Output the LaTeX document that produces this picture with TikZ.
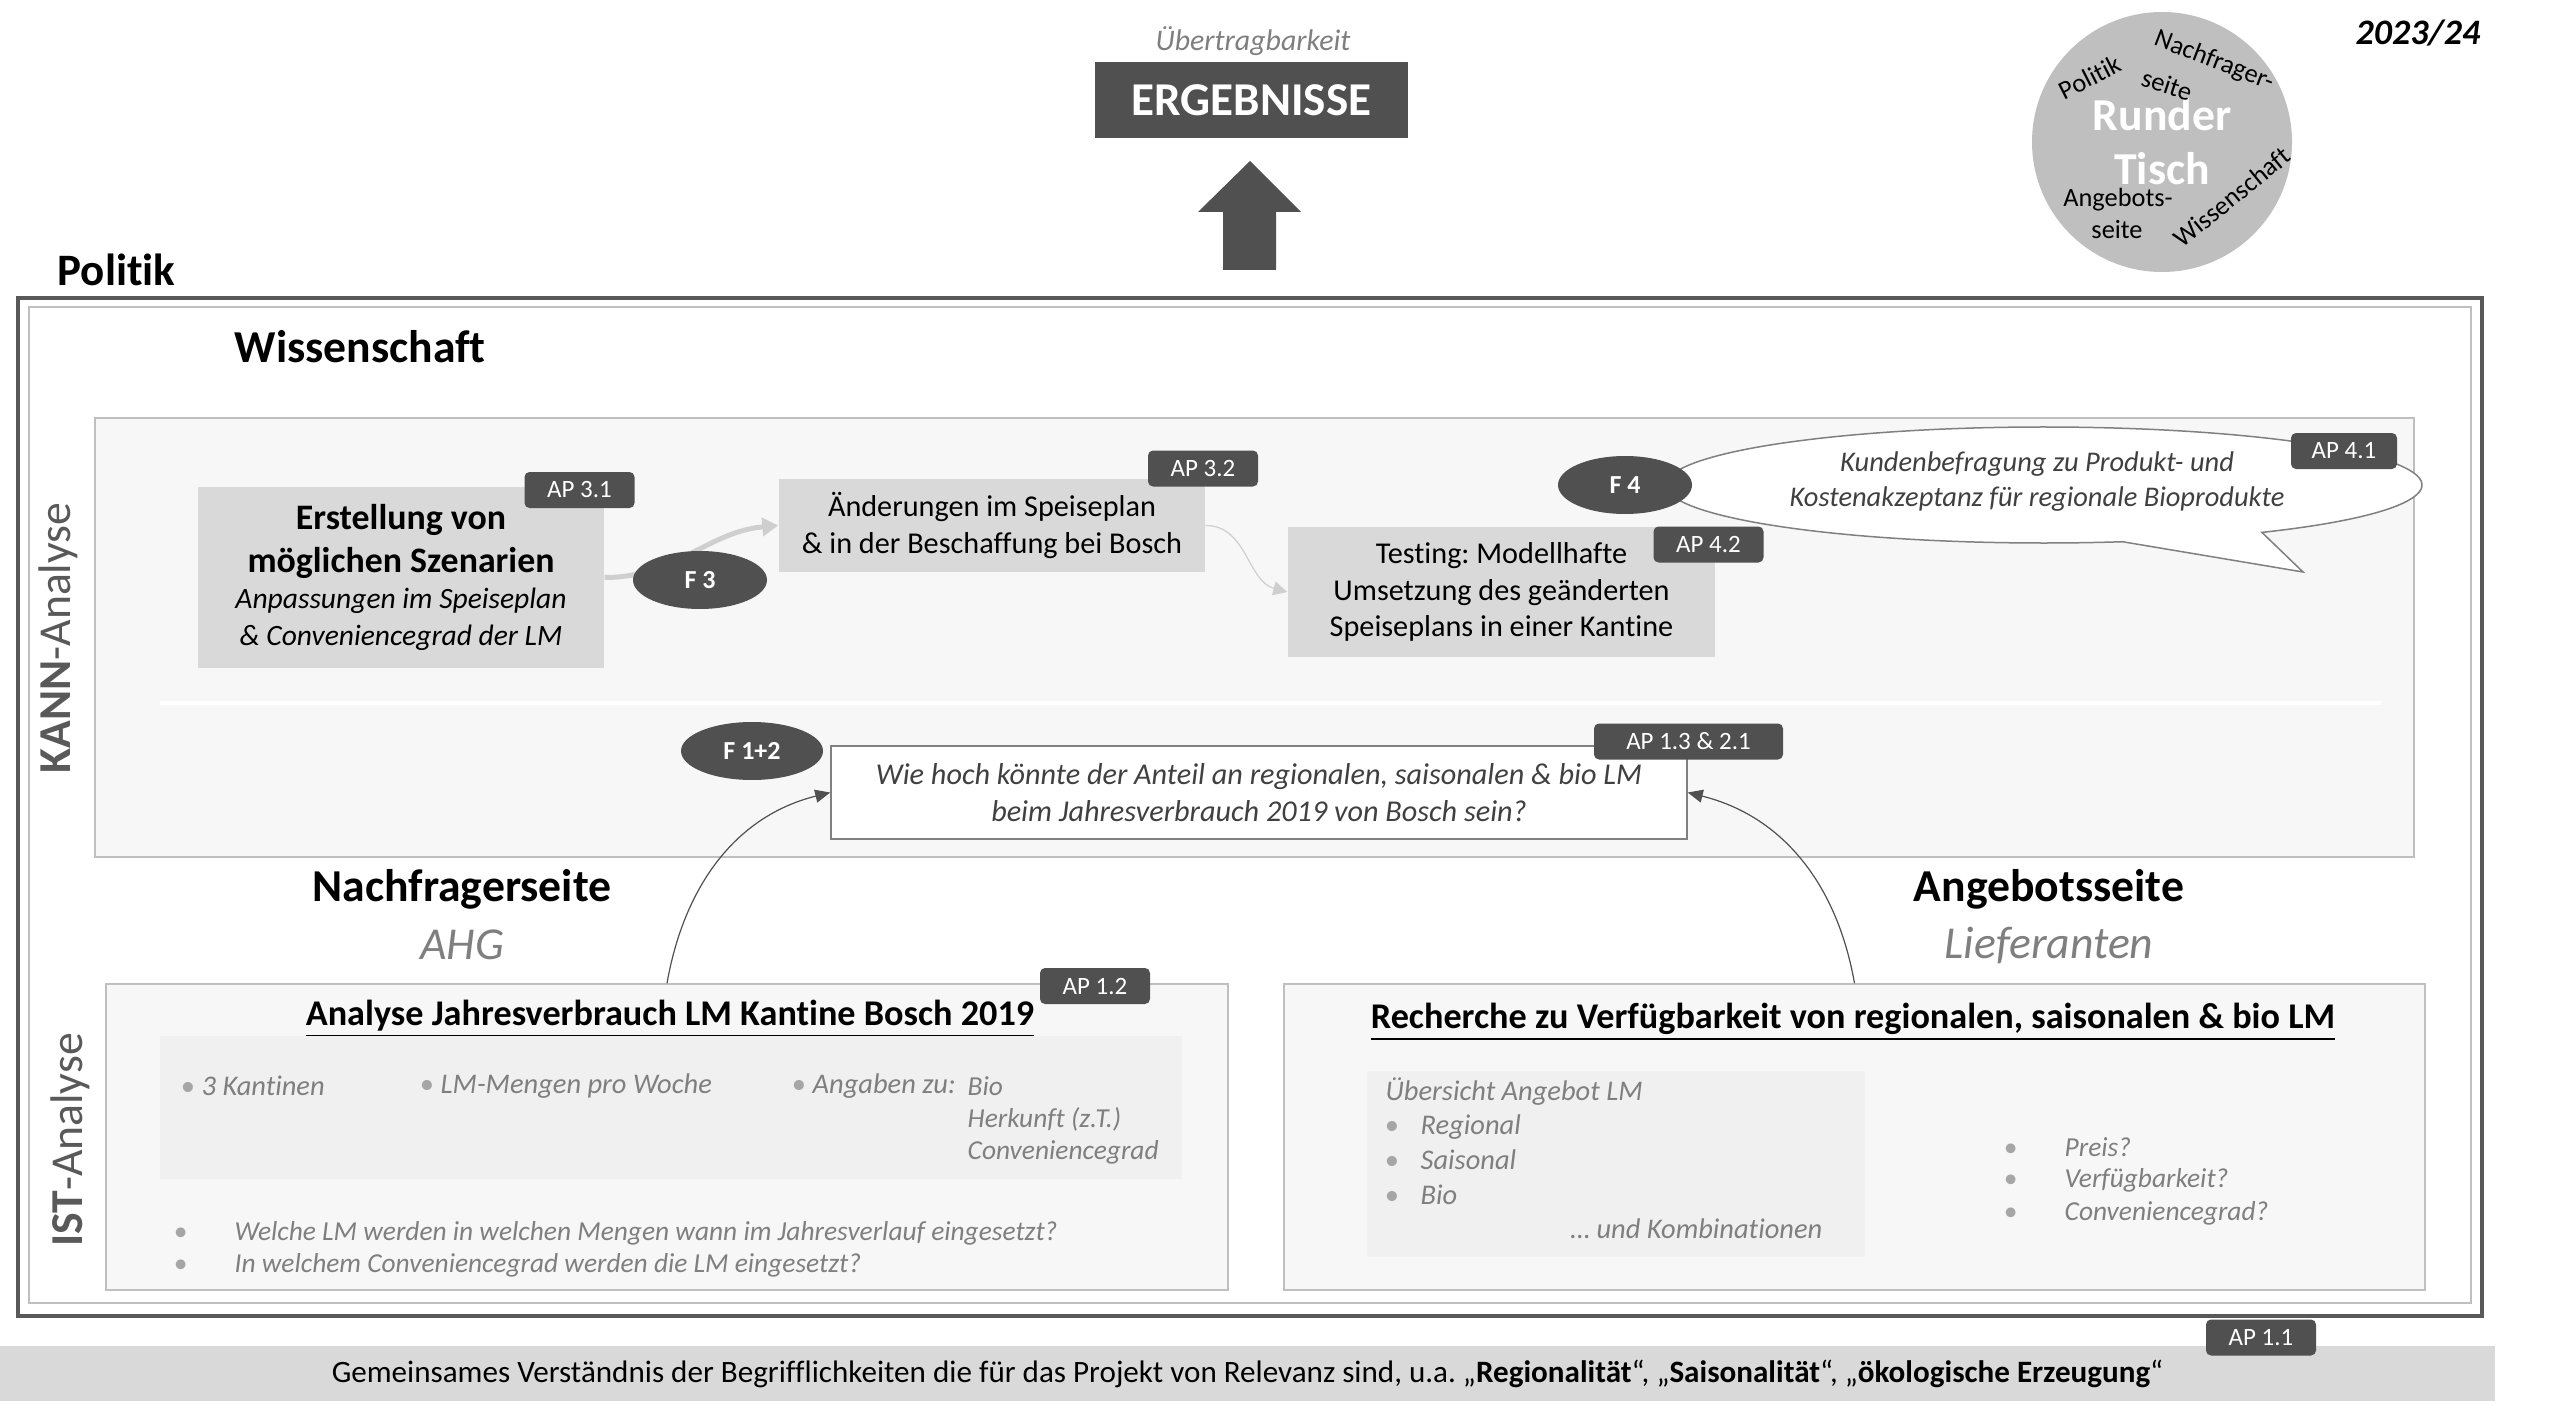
\documentclass[tikz,border=0pt]{standalone}
\usepackage{fontspec}
\setmainfont{Carlito}[Ligatures=NoCommon]
\usetikzlibrary{arrows.meta,shapes.geometric}
\frenchspacing

\definecolor{apgray}{HTML}{505050}
\definecolor{boxgray}{HTML}{D9D9D9}
\definecolor{panelgray}{HTML}{F7F7F7}
\definecolor{innergray}{HTML}{F0F0F0}
\definecolor{rimgray}{HTML}{BFBFBF}
\definecolor{txtgray}{HTML}{7F7F7F}
\definecolor{lblgray}{HTML}{595959}
\definecolor{bulgray}{HTML}{A6A6A6}
\definecolor{palegray}{HTML}{CFCFCF}
\definecolor{linegray}{HTML}{808080}
\definecolor{darktext}{HTML}{404040}

\newcommand{\boxfont}{\upshape\mdseries\fontsize{8.6}{10.5}\selectfont}
\newcommand{\boxbold}{\upshape\bfseries\fontsize{10.2}{12.2}\selectfont}
\newcommand{\boxital}{\mdseries\itshape\fontsize{8.4}{10.5}\selectfont}
\newcommand{\dotitem}[1]{\makebox[#1][l]{\color{bulgray}\textbullet}}

\tikzset{
  apbadge/.style={fill=apgray, text=white, rounded corners=0.5mm, inner sep=0pt,
    minimum width=11mm, minimum height=3.6mm, font=\fontsize{7.1}{8}\selectfont},
  fnode/.style={ellipse, fill=apgray, text=white, inner sep=0pt,
    minimum width=13.4mm, minimum height=5.8mm, font=\bfseries\fontsize{7.4}{8}\selectfont},
  greybox/.style={fill=boxgray, inner sep=0pt, align=center},
  panel/.style={fill=panelgray, draw=rimgray, line width=0.15mm, inner sep=0pt},
  heading/.style={inner sep=0pt, font=\bfseries\fontsize{13}{15}\selectfont},
  subhead/.style={inner sep=0pt, text=txtgray, font=\itshape\fontsize{13}{15}\selectfont},
  sidelabel/.style={rotate=90, inner sep=0pt, text=lblgray, font=\fontsize{13}{15}\selectfont},
  graytext/.style={inner sep=0pt, anchor=west, text=txtgray, font=\itshape\fontsize{7.8}{9}\selectfont},
  innertext/.style={graytext, font=\itshape\fontsize{8.1}{9}\selectfont},
  istitle/.style={inner sep=0pt, anchor=base, font=\bfseries\fontsize{10.3}{12}\selectfont},
  ringword/.style={inner sep=0pt, font=\fontsize{7.5}{8}\selectfont},
  pale arrow/.style={draw=palegray, line width=0.5mm, -{Triangle[length=1.6mm, width=1.8mm]}},
  thin arrow/.style={draw=palegray, line width=0.12mm, -{Triangle[length=1.4mm, width=1.4mm]}},
  ist arrow/.style={draw=apgray, line width=0.12mm, -{Triangle[length=1.5mm, width=1.3mm]}},
}

\begin{document}
\begin{tikzpicture}[x=0.1mm, y=0.1mm]
    % Canvas
    \fill[white] (0,0) rectangle (2560,1409);
    \useasboundingbox (0,0) rectangle (2560,1409);

    % Ergebnisse
    \node[inner sep=0pt, anchor=base, text=txtgray, font=\itshape\fontsize{8.5}{10}\selectfont] (uebertrag) at (1253,1358) {Übertragbarkeit};
    \node[fill=apgray, text=white, inner sep=0pt, minimum width=31.3mm, minimum height=7.6mm,
      font=\bfseries\fontsize{13.4}{15}\selectfont] (ergebnis) at (1251.5,1309) {ERGEBNISSE};
    \fill[apgray] (1223,1139) -- (1223,1197) -- (1198,1197) -- (1250,1248)
      -- (1301,1197) -- (1276,1197) -- (1276,1139) -- cycle;

    % Runder Tisch
    \node[circle, fill=rimgray, minimum size=26mm, inner sep=0pt, align=center, text=white,
      font=\bfseries\fontsize{13}{15.4}\selectfont] (tisch) at (2162,1267) {Runder\\Tisch};
    \node[ringword, rotate=27] (rpolitik) at (2090,1332) {Politik};
    \node[ringword, rotate=-21] (rnachfrage) at (2214,1348) {Nachfrager-};
    \node[ringword, rotate=-18] (rnachseite) at (2167,1324) {seite};
    \node[ringword] (rangebot) at (2118,1209) {Angebots-};
    \node[ringword] (rangseite) at (2117,1179) {seite};
    \node[ringword, rotate=39] (rwissen) at (2232,1212) {Wissenschaft};
    \node[inner sep=0pt, font=\bfseries\itshape\fontsize{10.2}{12}\selectfont] (jahr) at (2418,1376) {2023/24};

    % Politik frame
    \draw[lblgray, line width=0.35mm] (18,1111) rectangle (2482,93);
    \node[heading, anchor=base west, font=\bfseries\fontsize{12.8}{15}\selectfont] (politik) at (57,1123) {Politik};

    % Wissenschaft frame
    \draw[rimgray, fill=white, line width=0.15mm] (29,1102) rectangle (2471,106);
    \node[heading, anchor=base west] (wissen) at (234,1046) {Wissenschaft};

    % KANN-Analyse
    \draw[panel] (95,991) rectangle (2414,552);
    \draw[white, line width=0.4mm] (160,706) -- (2381,706);
    \node[sidelabel] (kann) at (58,771) {\textbf{KANN}-Analyse};

    \node[greybox, minimum width=40.6mm, minimum height=18.1mm, font=\boxfont] (szen) at (401,831.5)
      {{\boxbold Erstellung von}\\[1.7pt]{\boxbold möglichen Szenarien}\\{\boxital Anpassungen im Speiseplan}\\{\boxital \& Conveniencegrad der LM}};
    \node[apbadge] (ap31) at (579.5,919) {AP 3.1};
    \node[greybox, minimum width=42.6mm, minimum height=9.3mm, font=\boxfont] (aend) at (992,883.5)
      {Änderungen im Speiseplan\\\& in der Beschaffung bei Bosch};
    \node[apbadge] (ap32) at (1203,940.5) {AP 3.2};
    \node[greybox, minimum width=42.7mm, minimum height=13mm, font=\boxfont] (test) at (1501.5,817)
      {Testing: Modellhafte\\Umsetzung des geänderten\\Speiseplans in einer Kantine};
    \node[apbadge] (ap42) at (1708.5,864.5) {AP 4.2};

    \draw[pale arrow] (szen.east) to[out=0, in=185] (aend.west);
    \draw[thin arrow] (aend.east) to[out=0, in=165] (test.west);
    \node[fnode] (f3) at (700,829) {F 3};

    % Kundenbefragung
    \draw[linegray, fill=white, line width=0.15mm] (2044,924) ++(-54.8:378 and 58)
      arc[start angle=-54.8, end angle=282, x radius=378, y radius=58] -- (2303,837) -- cycle;
    \node[inner sep=0pt, align=center, text=darktext, font=\itshape\fontsize{8.1}{10}\selectfont] (kunde) at (2037,927.5)
      {Kundenbefragung zu Produkt- und\\Kostenakzeptanz für regionale Bioprodukte};
    \node[fnode] (f4) at (1625,924) {F 4};
    \node[apbadge, minimum width=10.6mm] (ap41) at (2344,958) {AP 4.1};

    % Leitfrage
    \node[draw=linegray, fill=white, line width=0.15mm, inner sep=0pt, minimum width=85.6mm, minimum height=9.3mm,
      align=center, text=darktext, font=\itshape\fontsize{8.6}{10.5}\selectfont] (frage) at (1259,616.5)
      {Wie hoch könnte der Anteil an regionalen, saisonalen \& bio LM\\beim Jahresverbrauch 2019 von Bosch sein?};
    \node[fnode, minimum width=14.2mm] (f12) at (752,658) {F 1+2};
    \node[apbadge, minimum width=18.9mm] (ap13) at (1688.5,667.5) {AP 1.3 \& 2.1};

    % Nachfrager- und Angebotsseite
    \node[heading] (nachfrage) at (462,520) {Nachfragerseite};
    \node[subhead] (ahg) at (462,464) {AHG};
    \node[heading] (angebot) at (2049,520) {Angebotsseite};
    \node[subhead] (liefer) at (2049,464) {Lieferanten};

    % IST-Analyse
    \node[panel, minimum width=112.2mm, minimum height=30.6mm] (istl) at (667,272) {};
    \node[panel, minimum width=114.1mm, minimum height=30.6mm] (istr) at (1854.5,272) {};
    \node[sidelabel] (ist) at (70,269) {\textbf{IST}-Analyse};
    \draw[ist arrow] (istl.north) to[out=80, in=194] (frage.west);
    \draw[ist arrow] (istr.north) to[out=100, in=-14] (frage.east);

    % Analyse Jahresverbrauch
    \node[istitle] (istltitel) at (670,384) {\underline{Analyse Jahresverbrauch LM Kantine Bosch 2019}};
    \node[apbadge] (ap12) at (1095,423) {AP 1.2};
    \fill[innergray] (160,373) rectangle (1182,230);
    \foreach \x/\txt [count=\i] in {180/3 Kantinen, 419/LM-Mengen pro Woche, 791/Angaben zu:} {
        \node[innertext] (menge\i) at (\x,323) {\dotitem{2.1mm}\txt};
    }
    \foreach \y/\txt [count=\i] in {323/Bio, 290/Herkunft (z.T.), 257/Conveniencegrad} {
        \node[graytext] (angabe\i) at (967,\y) {\txt};
    }
    \foreach \y/\txt [count=\i] in {176/Welche LM werden in welchen Mengen wann im Jahresverlauf eingesetzt?,
        144/In welchem Conveniencegrad werden die LM eingesetzt?} {
        \node[graytext] (leitfrage\i) at (173,\y) {\dotitem{6.1mm}\txt};
    }

    % Recherche Verfuegbarkeit
    \node[istitle] (istrtitel) at (1853,381) {\underline{Recherche zu Verfügbarkeit von regionalen, saisonalen \& bio LM}};
    \fill[innergray] (1367,338) rectangle (1865,152);
    \node[innertext] (uebersicht) at (1385,317) {Übersicht Angebot LM};
    \foreach \y/\txt [count=\i] in {282/Regional, 249/Saisonal, 214/Bio} {
        \node[innertext] (art\i) at (1384,\y) {\dotitem{3.6mm}\txt};
    }
    \node[innertext, anchor=east] (kombi) at (1823,180) {… und Kombinationen};
    \foreach \y/\txt [count=\i] in {262/Preis?, 229/Verfügbarkeit?, 196/Conveniencegrad?} {
        \node[graytext] (pruef\i) at (2003,\y) {\dotitem{6.1mm}\txt};
    }

    % Begriffe
    \node[fill=boxgray, inner sep=0pt, minimum width=249.5mm, minimum height=5.5mm,
      font=\fontsize{8.85}{10}\selectfont] (begriffe) at (1247.5,35.5)
      {Gemeinsames Verständnis der Begrifflichkeiten die für das Projekt von Relevanz sind, u.a. „\textbf{Regionalität}“, „\textbf{Saisonalität}“, „\textbf{ökologische Erzeugung}“};
    \node[apbadge] (ap11) at (2261,71.5) {AP 1.1};
\end{tikzpicture}
\end{document}
